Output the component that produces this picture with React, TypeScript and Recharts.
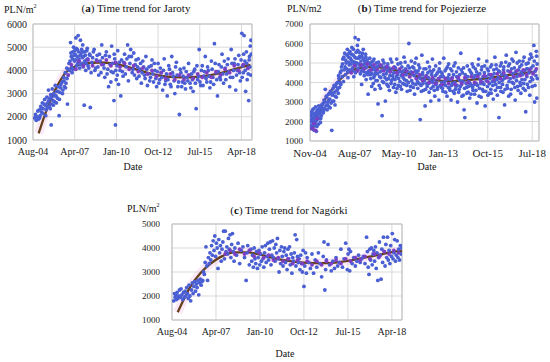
import React from 'react';
import { ComposedChart, Scatter, Line, XAxis, YAxis, CartesianGrid, ReferenceArea } from 'recharts';

// Excel date serials of the x ticks (every 1000 days)
const ticksSerialAC = [38200, 39200, 40200, 41200, 42200, 43200];
const labelsAC = ['Aug-04', 'Apr-07', 'Jan-10', 'Oct-12', 'Jul-15', 'Apr-18'];
const ticksSerialB = [38300, 39300, 40300, 41300, 42300, 43300];
const labelsB = ['Nov-04', 'Aug-07', 'May-10', 'Jan-13', 'Oct-15', 'Jul-18'];

const yTicksA = [1000, 2000, 3000, 4000, 5000, 6000];
const yTicksB = [1000, 2000, 3000, 4000, 5000, 6000, 7000];
const yTicksC = [1000, 2000, 3000, 4000, 5000];

// ---- (a) Jaroty ----
const jarotyBlue: [number, number][] = [
  [2004.70,1950],[2004.75,2100],[2004.80,1850],[2004.85,2000],[2004.90,2250],[2004.95,1900],[2005.00,2300],[2005.05,2050],
  [2005.10,2450],[2005.15,2200],[2005.20,2600],[2005.25,2350],[2005.78,1650],[2005.35,2750],[2005.40,2500],[2005.45,2300],
  [2005.50,2850],[2005.55,2600],[2005.60,3150],[2005.65,2450],[2005.70,2800],[2005.75,2950],[2005.80,2550],[2005.85,3200],
  [2005.90,2700],[2005.95,3000],[2006.00,2650],[2006.05,3350],[2006.10,2900],[2006.15,3100],[2006.20,2800],[2006.25,3300],
  [2006.30,2050],[2006.35,3050],[2006.40,3250],[2006.50,3500],[2006.55,3150],[2006.60,3700],[2006.65,3300],[2006.70,3900],
  [2006.75,3450],[2006.80,4100],[2006.85,2550],[2006.90,3800],[2006.95,4300],[2007.00,4000],[2007.05,5200],[2007.10,4600],
  [2007.15,3900],[2007.20,4800],[2007.25,5000],[2007.30,4400],[2007.35,4700],[2007.40,5400],[2007.45,4200],[2007.50,4900],
  [2007.55,5500],[2007.60,4500],[2007.65,4100],[2007.70,5300],[2007.75,4750],[2007.80,4300],[2007.85,5100],[2007.90,4600],
  [2007.95,2500],[2008.00,4800],[2008.05,4000],[2008.10,4450],[2008.15,4950],[2008.20,4200],[2008.30,4700],[2008.35,2400],
  [2008.40,3900],[2008.50,4550],[2008.60,4900],[2008.70,4100],[2008.80,4650],[2008.90,3800],[2009.00,4400],[2009.10,5100],
  [2009.20,4250],[2009.30,3700],[2009.40,4800],[2009.50,4050],[2009.55,3300],[2009.60,4600],[2009.70,3500],[2009.75,5050],
  [2009.80,4300],[2009.85,3900],[2009.90,2700],[2009.95,4500],[2010.00,1650],[2010.05,3600],[2010.10,4200],[2010.15,4850],
  [2010.20,3400],[2010.30,4000],[2010.35,2900],[2010.40,4450],[2010.50,3750],[2010.60,4700],[2010.70,4150],[2010.80,5100],
  [2010.85,3550],[2010.90,4600],[2011.00,4900],[2011.10,3900],[2011.20,4750],[2011.30,4250],[2011.40,3650],[2011.50,4500],
  [2011.60,4050],[2011.70,3450],[2011.80,4400],[2011.90,3800],[2012.00,4600],[2012.10,3350],[2012.20,4150],[2012.30,3700],
  [2012.40,4450],[2012.50,3500],[2012.60,4000],[2012.70,3300],[2012.80,4300],[2012.90,3600],[2013.00,3900],[2013.10,3150],
  [2013.20,4500],[2013.30,3550],[2013.40,2900],[2013.50,4200],[2013.60,3400],[2013.70,4600],[2013.80,3750],[2013.90,3000],
  [2014.00,4350],[2014.10,3300],[2014.20,2100],[2014.30,3900],[2014.40,3500],[2014.50,4100],[2014.60,3200],[2014.70,3700],
  [2014.80,4300],[2014.90,3450],[2015.00,3850],[2015.10,3100],[2015.20,4050],[2015.30,2350],[2015.40,3600],[2015.50,4900],
  [2015.60,3350],[2015.70,4200],[2015.80,3750],[2015.90,4600],[2016.00,3500],[2016.10,4000],[2016.20,3250],[2016.30,4400],
  [2016.40,3700],[2016.50,5150],[2016.60,3900],[2016.70,2900],[2016.80,4250],[2016.90,3600],[2017.00,4700],[2017.10,3450],
  [2017.20,4100],[2017.30,3850],[2017.40,4500],[2017.50,3300],[2017.60,4900],[2017.70,3700],[2017.80,4300],[2017.90,3150],
  [2018.00,4000],[2018.10,4650],[2018.20,3550],[2018.30,5600],[2018.35,4200],[2018.40,3900],[2018.45,5500],[2018.50,4400],
  [2018.55,3100],[2018.60,4800],[2018.65,3600],[2018.70,4100],[2018.75,2700],[2018.80,4600],[2018.85,5050],[2018.90,5300],
  [2018.88,3800],
];
const jarotyBlueMore: [number, number][] = [
  [2005.02,1950],[2005.12,2350],[2005.22,2150],[2005.32,2550],[2005.42,2050],[2005.52,2400],[2005.62,2700],[2005.72,2350],
  [2005.82,2850],[2005.92,2500],[2006.02,2900],[2006.12,2600],[2006.22,3100],[2006.32,2750],[2006.42,3400],[2006.52,3000],
  [2006.62,3550],[2006.72,3250],[2006.82,3650],[2006.92,4050],
  [2007.02,4400],[2007.08,4750],[2007.12,4150],[2007.18,4500],[2007.22,4050],[2007.28,4650],[2007.32,4850],[2007.38,4450],
  [2007.42,4950],[2007.48,4600],[2007.52,4300],[2007.58,4800],[2007.62,4400],[2007.68,4650],[2007.72,4250],[2007.78,4900],
  [2007.82,4550],[2007.88,4150],[2007.92,4800],[2007.98,4400],[2008.02,4650],[2008.08,4300],[2008.12,4850],[2008.18,4500],
  [2008.25,4100],[2008.32,4650],[2008.45,4350],[2008.55,4800],[2008.65,4000],[2008.75,4450],[2008.85,4150],[2008.95,4700],
  [2009.05,3900],[2009.15,4550],[2009.25,4100],[2009.35,4650],[2009.45,3850],[2009.65,4250],[2009.72,3950],[2009.92,4700],
  [2010.02,4000],[2010.12,3800],[2010.25,4350],[2010.45,3950],[2010.55,4350],[2010.65,3850],[2010.75,4500],[2010.95,4300],
  [2011.05,4600],[2011.15,4050],[2011.25,3800],[2011.35,4450],[2011.45,4150],[2011.55,3750],[2011.65,4300],[2011.75,3900],
  [2011.85,4150],[2011.95,3650],[2012.05,4050],[2012.15,3850],[2012.25,3550],[2012.35,4200],[2012.45,3850],[2012.55,4300],
  [2012.65,3650],[2012.75,3950],[2012.85,3450],[2012.95,4100],[2013.05,3700],[2013.15,4000],[2013.25,3400],[2013.35,3850],
  [2013.45,3600],[2013.55,4050],[2013.65,3300],[2013.75,3900],[2013.85,3550],[2013.95,4150],[2014.05,3800],[2014.15,3500],
  [2014.25,4050],[2014.35,3300],[2014.45,3750],[2014.55,3450],[2014.65,3950],[2014.75,3550],[2014.85,3800],[2014.95,3250],
  [2015.05,3600],[2015.15,3950],[2015.25,3450],[2015.35,4200],[2015.45,3750],[2015.55,3500],[2015.65,4000],[2015.75,3350],
  [2015.85,3950],[2015.95,3650],[2016.05,4150],[2016.15,3750],[2016.25,3500],[2016.35,4050],[2016.45,3400],[2016.55,4300],
  [2016.65,3600],[2016.75,3950],[2016.85,3700],[2016.95,4150],[2017.05,3850],[2017.15,4400],[2017.25,3600],[2017.35,4250],
  [2017.45,3950],[2017.55,3700],[2017.65,4300],[2017.75,4000],[2017.85,4500],[2017.95,3800],[2018.05,4250],[2018.15,3900],
  [2018.25,4450],[2018.32,3700],[2018.42,4700],[2018.52,4000],[2018.62,4300],[2018.72,3850],[2018.78,4450],[2018.83,4150],
  [2018.92,4700],
];
const jarotyPurple: [number, number][] = [
  [2006.9,3800],[2007.1,4250],[2007.4,4050],[2007.6,4400],[2007.9,4200],[2008.2,4450],[2008.5,4200],[2008.8,4400],
  [2009.1,4250],[2009.4,4450],[2009.7,4200],[2010.0,4350],[2010.3,4150],[2010.6,4300],[2010.9,4050],[2011.2,4200],
  [2011.5,3950],[2011.8,4100],[2012.1,3850],[2012.4,4000],[2012.7,3750],[2013.0,3900],[2013.3,3650],[2013.6,3850],
  [2013.9,3600],[2014.2,3800],[2014.5,3600],[2014.8,3800],[2015.1,3650],[2015.4,3850],[2015.7,3700],[2016.0,3900],
  [2016.3,3700],[2016.6,3950],[2016.9,3800],[2017.2,4050],[2017.5,3900],[2017.8,4200],[2018.1,4000],[2018.4,4250],
  [2018.7,4100],
];
const jarotyTrend: [number, number][] = [
  [2004.96,1290],[2005.40,2150],[2005.84,2870],[2006.28,3450],[2006.73,3900],[2007.28,4150],[2008.05,4300],
  [2008.93,4340],[2009.82,4300],[2010.70,4170],[2011.58,4000],[2012.69,3810],[2013.79,3710],[2014.68,3700],
  [2015.56,3740],[2016.66,3850],[2017.77,4050],[2018.87,4240],
];

// ---- (b) Pojezierze ----
const pojezierzeBlue: [number, number][] = [
  [2004.90,1800],[2004.92,2300],[2004.95,2000],[2004.97,2500],[2005.00,1700],[2005.02,2200],[2005.05,1950],[2005.07,2650],
  [2005.10,2100],[2005.12,1550],[2005.15,2400],[2005.17,1900],[2005.20,2750],[2005.22,2250],[2005.25,1500],[2005.27,2050],
  [2005.30,2600],[2005.33,2350],[2005.36,1850],[2005.40,2800],[2005.43,2150],[2005.46,2500],[2005.50,1950],[2005.53,2700],
  [2005.56,2300],[2005.60,2550],
  [2005.64,2900],[2005.68,2450],[2005.72,3100],[2005.76,2650],[2005.80,3650],[2005.84,2800],[2005.88,3250],[2005.92,2600],
  [2005.96,3000],[2006.00,3400],[2006.04,2750],[2006.08,3150],[2006.12,3550],[2006.16,2950],[2006.20,1550],[2006.24,3350],
  [2006.28,3700],[2006.32,3050],[2006.36,3500],[2006.40,2850],[2006.44,3800],[2006.48,3250],[2006.52,3600],[2006.56,4000],
  [2006.60,3450],[2006.64,4200],[2006.68,3750],[2006.72,4500],[2006.76,3900],[2006.80,4800],[2006.84,4300],[2006.88,5200],
  [2006.92,4050],[2006.96,4650],[2007.00,5500],[2007.04,4400],[2007.08,5000],[2007.12,4700],[2007.16,5700],[2007.20,4250],
  [2007.24,5300],[2007.28,4900],
  [2007.32,5600],[2007.36,4550],[2007.40,5150],[2007.44,5800],[2007.48,4750],[2007.52,5400],[2007.56,4300],[2007.60,5050],
  [2007.64,6300],[2007.68,4850],[2007.72,5250],[2007.76,4600],[2007.80,5650],[2007.84,6200],[2007.88,4950],[2007.92,5350],
  [2007.96,4450],[2008.00,5100],[2008.04,3900],[2008.08,5500],[2008.12,4700],[2008.16,5200],[2008.20,4350],[2008.24,4950],
  [2008.28,5450],[2008.32,4150],[2008.36,4800],[2008.40,5000],[2008.44,3400],[2008.48,4600],
  [2008.54,5250],[2008.58,4400],[2008.62,4900],[2008.66,3800],[2008.70,4650],[2008.74,5100],[2008.78,4250],[2008.82,4750],
  [2008.86,3650],[2008.90,4500],[2008.95,5000],[2009.00,4100],[2009.05,2900],[2009.10,4850],[2009.15,4300],[2009.20,3700],
  [2009.25,4600],[2009.30,2300],[2009.35,5150],[2009.40,4000],[2009.45,4700],[2009.50,3050],[2009.55,4450],[2009.60,3900],
  [2009.65,4950],[2009.70,4200],[2009.75,3600],[2009.80,4550],[2009.85,3950],[2009.90,5050],[2009.95,4350],
  [2010.00,3750],[2010.05,4800],[2010.10,4150],[2010.15,3500],[2010.20,5200],[2010.25,4400],[2010.30,3850],[2010.35,4650],
  [2010.40,4050],[2010.45,5000],[2010.50,3650],[2010.55,4500],[2010.60,4250],[2010.65,5300],[2010.70,3900],[2010.75,4700],
  [2010.80,4100],[2010.85,3550],[2010.90,4850],[2010.95,6000],[2011.00,4300],[2011.05,3800],[2011.10,5100],[2011.15,4450],
  [2011.20,3950],[2011.25,4750],[2011.30,3400],[2011.35,4600],[2011.40,5250],[2011.45,4200],
  [2011.50,3700],[2011.55,4900],[2011.60,4350],[2011.65,2100],[2011.70,3850],[2011.75,5400],[2011.80,4500],[2011.85,3600],
  [2011.90,4100],[2011.95,2800],[2012.00,4700],[2012.05,3950],[2012.10,5050],[2012.15,4250],[2012.20,3500],[2012.25,4600],
  [2012.30,3050],[2012.35,4400],[2012.40,5200],[2012.45,3800],[2012.50,4150],[2012.55,3300],[2012.60,4850],[2012.65,4000],
  [2012.70,3650],[2012.75,4550],[2012.80,3100],[2012.85,5000],[2012.90,4300],[2012.95,3750],
  [2013.00,4450],[2013.05,3550],[2013.10,5250],[2013.15,4050],[2013.20,3850],[2013.25,4700],[2013.30,3300],[2013.35,4250],
  [2013.40,4950],[2013.45,3700],[2013.50,4150],[2013.55,3100],[2013.60,4600],[2013.65,3950],[2013.70,4400],[2013.75,3450],
  [2013.80,5000],[2013.85,3800],[2013.90,4300],[2013.95,3000],[2014.00,4750],[2014.05,3650],[2014.10,4100],[2014.15,5500],
  [2014.20,3900],[2014.25,4500],[2014.30,3350],[2014.35,2600],[2014.40,2200],[2014.45,4200],[2014.50,3750],[2014.55,4850],
  [2014.60,3500],[2014.65,4050],[2014.70,3200],[2014.75,4550],[2014.80,3850],[2014.85,4950],[2014.90,3600],[2014.95,4250],
  [2015.00,3400],[2015.05,4700],[2015.10,3950],[2015.15,2950],[2015.20,4400],[2015.25,5200],[2015.30,3700],[2015.35,4150],
  [2015.40,3250],[2015.45,4800],[2015.50,4000],[2015.55,3550],[2015.60,4500],[2015.65,2800],[2015.70,4300],[2015.75,5100],
  [2015.80,3800],[2015.85,4600],[2015.90,3450],[2015.95,4200],[2016.00,3650],[2016.05,4900],[2016.10,4050],[2016.15,3150],
  [2016.20,4450],[2016.25,5300],[2016.30,3900],[2016.35,4700],[2016.40,3350],[2016.45,4250],[2016.50,2200],
  [2016.55,4550],[2016.60,3750],[2016.65,5000],[2016.70,4100],[2016.75,3500],[2016.80,4800],[2016.85,2850],[2016.90,4350],
  [2016.95,5400],[2017.00,3850],[2017.05,4600],[2017.10,3300],[2017.15,4950],[2017.20,4200],[2017.25,3650],[2017.30,5200],
  [2017.35,4450],[2017.40,3950],[2017.45,4750],[2017.50,3100],[2017.55,5550],[2017.60,4300],[2017.65,3800],[2017.70,4650],
  [2017.75,5100],[2017.80,4000],[2017.85,3450],[2017.90,4900],[2017.95,4400],[2018.00,3700],[2018.05,5300],[2018.10,4150],
  [2018.15,2500],[2018.20,4700],[2018.25,3900],[2018.30,5000],[2018.35,4500],[2018.40,3350],[2018.45,5450],[2018.50,4250],
  [2018.55,3800],[2018.60,4850],[2018.65,5900],[2018.70,3000],[2018.75,4600],[2018.80,5600],[2018.83,3200],[2018.85,4950],
];
const pojezierzeBlueMore: [number, number][] = [
  [2004.88,2100],[2004.93,1650],[2004.98,2400],[2005.03,2600],[2005.08,1800],[2005.13,2250],[2005.18,2050],[2005.23,2450],
  [2005.28,1750],[2005.32,2550],[2005.38,2200],[2005.42,2650],[2005.48,2400],[2005.52,2150],[2005.58,2850],
  [2005.62,2700],[2005.70,2550],[2005.78,3000],[2005.86,3300],[2005.94,2850],[2006.02,3100],[2006.10,2700],[2006.18,3450],
  [2006.26,3050],[2006.34,3850],[2006.42,3300],[2006.50,3950],[2006.58,3700],
  [2006.62,4350],[2006.70,4000],[2006.78,4600],[2006.86,4950],[2006.94,5300],[2007.02,4800],[2007.06,5150],[2007.14,5400],
  [2007.18,4550],[2007.22,5050],[2007.26,5500],[2007.30,4650],[2007.34,5250],[2007.38,4950],[2007.42,5450],[2007.46,5100],
  [2007.50,4600],[2007.54,5700],[2007.58,4950],[2007.62,5300],[2007.66,4500],[2007.70,5550],[2007.74,5000],[2007.78,5900],
  [2007.82,4700],[2007.86,5250],[2007.90,5550],[2007.94,4850],[2007.98,5300],[2008.02,4600],[2008.06,5350],[2008.10,4900],
  [2008.14,5700],[2008.18,4550],[2008.22,5100],[2008.26,4750],[2008.30,5300],[2008.34,4500],[2008.38,5150],[2008.42,4400],
  [2008.46,5000],
  [2008.52,4550],[2008.56,4950],[2008.60,4200],[2008.64,5050],[2008.68,4450],[2008.72,4800],[2008.76,3950],[2008.80,5200],
  [2008.84,4350],[2008.88,4650],[2008.92,4100],[2008.98,4800],[2009.02,4450],[2009.08,5050],[2009.12,3850],[2009.18,4550],
  [2009.22,4250],[2009.28,4850],[2009.32,4050],[2009.38,4400],[2009.42,5000],[2009.48,4250],[2009.52,4800],[2009.58,4150],
  [2009.62,4600],[2009.68,3800],[2009.72,4750],[2009.78,4350],[2009.82,5200],[2009.88,4100],[2009.92,4700],[2009.98,4200],
  [2010.02,4500],[2010.08,3900],[2010.12,4750],[2010.18,4300],[2010.22,3700],[2010.28,4950],[2010.32,4200],[2010.38,4550],
  [2010.42,3800],[2010.48,4350],[2010.52,4800],[2010.58,3950],[2010.62,4600],[2010.68,4150],[2010.72,5050],[2010.78,4400],
  [2010.82,3850],[2010.88,4550],[2010.92,4000],[2010.98,4750],[2011.02,3600],[2011.08,4550],[2011.12,4100],[2011.18,4800],
  [2011.22,3750],[2011.28,4350],[2011.32,5000],[2011.38,3900],[2011.42,4500],[2011.48,4050],
  [2011.52,4600],[2011.58,3950],[2011.62,4750],[2011.68,4200],[2011.72,3550],[2011.78,4400],[2011.82,3950],[2011.88,4700],
  [2011.92,4250],[2011.98,3650],[2012.02,4350],[2012.08,3800],[2012.12,4500],[2012.18,3950],[2012.22,4800],[2012.28,4100],
  [2012.32,3700],[2012.38,4550],[2012.42,4000],[2012.48,4650],[2012.52,3600],[2012.58,4350],[2012.62,3900],[2012.68,4450],
  [2012.72,3750],[2012.78,4200],[2012.82,4700],[2012.88,3850],[2012.92,4550],[2012.98,4000],
  [2013.02,3700],[2013.08,4300],[2013.12,3900],[2013.18,4600],[2013.22,3500],[2013.28,4150],[2013.32,4800],[2013.38,3750],
  [2013.42,4400],[2013.48,3600],[2013.52,4700],[2013.58,3850],[2013.62,4250],[2013.68,3550],[2013.72,4850],[2013.78,4000],
  [2013.82,3650],[2013.88,4550],[2013.92,3850],[2013.98,4200],[2014.02,3500],[2014.08,4400],[2014.12,3800],[2014.18,4650],
  [2014.22,3300],[2014.28,4050],[2014.32,4750],[2014.38,3700],[2014.42,4400],[2014.48,3950],[2014.52,3450],[2014.58,4300],
  [2014.62,3800],[2014.68,4650],[2014.72,3950],[2014.78,3400],[2014.82,4450],[2014.88,3750],[2014.92,4800],[2014.98,3900],
  [2015.02,4350],[2015.08,3600],[2015.12,4550],[2015.18,3850],[2015.22,4900],[2015.28,3300],[2015.32,4450],[2015.38,3950],
  [2015.42,4650],[2015.48,3650],[2015.52,4300],[2015.58,3900],[2015.62,4850],[2015.68,3550],[2015.72,4100],[2015.78,4700],
  [2015.82,3350],[2015.88,4400],[2015.92,3950],[2015.98,4800],[2016.02,3450],[2016.08,4300],[2016.12,3850],[2016.18,4650],
  [2016.22,4050],[2016.28,3600],[2016.32,4900],[2016.38,4150],[2016.42,3750],[2016.48,4600],
  [2016.52,4000],[2016.58,4850],[2016.62,3550],[2016.68,4400],[2016.72,3900],[2016.78,4650],[2016.82,4200],[2016.88,3650],
  [2016.92,5050],[2016.98,4300],[2017.02,3700],[2017.08,4850],[2017.12,4050],[2017.18,4550],[2017.22,3400],[2017.28,4700],
  [2017.32,4000],[2017.38,5100],[2017.42,4250],[2017.48,3750],[2017.52,4550],[2017.58,4100],[2017.62,5000],[2017.68,3600],
  [2017.72,4400],[2017.78,4800],[2017.82,3850],[2017.88,4550],[2017.92,4150],[2017.98,5100],[2018.02,3950],[2018.08,4600],
  [2018.12,3600],[2018.18,4950],[2018.22,4300],[2018.28,4700],[2018.32,3750],[2018.38,5200],[2018.42,4050],[2018.48,4750],
  [2018.52,5300],[2018.58,4150],[2018.62,4500],[2018.68,5100],[2018.72,3850],[2018.78,4350],[2018.82,5350],[2018.86,4200],
];
const pojezierzePurple: [number, number][] = [
  [2005.0,1650],[2005.1,1900],[2005.2,1550],[2005.3,2150],
  [2007.4,4500],[2007.6,4850],[2007.8,4600],[2008.0,4900],[2008.2,4700],[2008.4,4950],[2008.6,4650],[2008.8,4900],
  [2009.0,4650],[2009.2,4900],[2009.4,4600],[2009.6,4800],[2009.8,4550],[2010.0,4750],[2010.2,4500],[2010.4,4700],
  [2010.6,4400],[2010.8,4600],[2011.0,4300],[2011.2,4500],[2011.4,4200],[2011.6,4400],[2011.8,4100],[2012.0,4300],
  [2012.2,4000],[2012.4,4250],[2012.6,3950],[2012.8,4200],[2013.0,3900],[2013.2,4200],[2013.4,3950],[2013.6,4200],
  [2013.8,3900],[2014.0,4250],[2014.2,3950],[2014.4,4250],[2014.6,4000],[2014.8,4300],[2015.0,4000],[2015.2,4300],
  [2015.4,4050],[2015.6,4350],[2015.8,4050],[2016.0,4400],[2016.2,4150],[2016.4,4450],[2016.6,4200],[2016.8,4500],
  [2017.0,4250],[2017.2,4550],[2017.4,4300],[2017.6,4600],[2017.8,4350],[2018.0,4650],[2018.2,4400],[2018.4,4650],
  [2018.6,4450],[2018.8,4700],
];
const pojezierzeTrend: [number, number][] = [
  [2005.00,1520],[2005.37,2340],[2005.78,3120],[2006.29,3720],[2006.81,4240],[2007.63,4670],[2008.45,4790],
  [2009.27,4760],[2010.09,4640],[2010.91,4470],[2011.73,4240],[2012.55,4120],[2013.37,4070],[2014.19,4100],
  [2015.00,4160],[2015.84,4220],[2016.66,4330],[2017.48,4430],[2018.30,4500],[2018.80,4570],
];

// ---- (c) Nagórki ----
const nagorkiBlue: [number, number][] = [
  [2004.70,1800],[2004.74,2100],[2004.78,1950],[2004.82,2050],[2004.86,1850],[2004.90,2150],[2004.95,1900],[2005.00,2000],
  [2005.05,2250],[2005.10,1950],[2005.15,2300],[2005.20,2050],[2005.25,1850],[2005.30,2150],[2005.35,1950],[2005.40,2200],
  [2005.45,2000],[2005.50,2350],[2005.55,2100],[2005.60,1900],[2005.65,2450],[2005.70,2000],[2005.75,1800],[2005.80,2250],
  [2005.85,2550],[2005.90,2100],[2005.95,2400],[2006.00,2600],[2006.05,2200],[2006.10,2500],[2006.15,2350],[2006.20,2650],
  [2006.25,2050],[2006.30,2550],[2006.35,2700],[2006.40,2450],[2006.45,2600],
  [2006.50,2650],[2006.55,3000],[2006.60,2900],[2006.65,3400],[2006.70,4050],[2006.75,3250],[2006.80,2650],[2006.85,3600],
  [2006.90,3350],[2006.95,3800],[2007.00,3500],[2007.05,4100],[2007.10,3700],[2007.15,4300],
  [2007.20,3900],[2007.25,4500],[2007.30,3650],[2007.35,4200],[2007.40,4000],[2007.45,3150],[2007.50,4350],[2007.55,3800],
  [2007.60,4100],[2007.65,3450],[2007.70,3950],[2007.75,4250],[2007.80,4700],[2007.85,3550],[2007.90,4700],[2007.95,3850],
  [2008.00,4050],[2008.05,3750],[2008.10,4400],[2008.15,3950],[2008.20,4550],[2008.25,3600],[2008.30,4150],[2008.35,4600],
  [2008.40,3850],[2008.45,3450],[2008.50,4000],[2008.60,3700],[2008.70,4200],[2008.80,3350],[2008.90,3900],[2009.00,4050],
  [2009.10,3600],[2009.20,2650],[2009.25,3800],[2009.30,4100],[2009.40,3300],[2009.50,3950],
  [2009.55,3450],[2009.60,3700],[2009.65,3200],[2009.70,4000],[2009.75,3550],[2009.80,3350],[2009.85,3850],[2009.90,3150],
  [2009.95,3600],[2010.00,3900],[2010.05,3300],[2010.10,3750],[2010.15,3450],[2010.20,4050],[2010.25,3550],[2010.30,3200],
  [2010.35,3800],[2010.40,4100],[2010.45,3400],[2010.50,3650],[2010.55,4200],[2010.60,3500],[2010.65,3950],[2010.70,4250],
  [2010.75,3300],[2010.80,3700],[2010.85,4300],[2010.90,3600],[2010.95,4000],
  [2011.00,3450],[2011.05,4150],[2011.10,3800],[2011.15,4400],[2011.20,3550],[2011.25,3000],[2011.30,3900],[2011.35,3350],
  [2011.40,4050],[2011.45,3650],[2011.50,3250],[2011.55,3850],[2011.60,4000],[2011.65,3400],[2011.70,3700],[2011.75,3100],
  [2011.80,3950],[2011.85,3550],[2011.90,4050],[2011.95,3300],[2012.00,3750],[2012.05,2950],[2012.10,3600],[2012.15,3450],
  [2012.20,3800],[2012.25,4550],[2012.30,3250],[2012.35,4350],[2012.40,3650],[2012.45,3400],
  [2012.50,3550],[2012.55,3100],[2012.60,3700],[2012.65,3350],[2012.70,3000],[2012.75,3900],[2012.80,2400],[2012.85,3250],
  [2012.90,3800],[2012.95,2950],[2013.00,3600],[2013.10,3400],[2013.20,3150],[2013.30,3750],[2013.40,2950],[2013.50,3500],
  [2013.60,3200],[2013.70,3800],[2013.80,3350],[2013.90,2800],
  [2014.00,3650],[2014.05,4250],[2014.10,2250],[2014.15,3100],[2014.20,3500],[2014.30,4150],[2014.40,3300],[2014.50,3050],
  [2014.60,3450],[2014.70,3150],[2014.80,3600],[2014.90,3250],
  [2015.00,3400],[2015.10,3950],[2015.20,3200],[2015.30,3550],[2015.40,4200],[2015.50,3100],[2015.55,3750],[2015.60,3950],
  [2015.65,3050],[2015.70,3850],[2015.80,3350],[2015.90,3600],[2016.00,3250],[2016.10,3450],[2016.20,3700],[2016.30,3400],
  [2016.40,3550],
  [2016.50,3650],[2016.60,3350],[2016.70,4450],[2016.75,3850],[2016.80,3200],[2016.85,2900],[2016.90,3950],[2016.95,3500],
  [2017.00,4000],[2017.05,3300],[2017.10,3750],[2017.15,3900],[2017.20,3450],[2017.25,4050],[2017.30,3150],[2017.35,3800],
  [2017.40,2650],[2017.45,3600],
  [2017.50,4250],[2017.55,3700],[2017.60,2700],[2017.65,3950],[2017.70,3400],[2017.75,4450],[2017.80,3850],[2017.85,3250],
  [2017.90,4150],[2017.95,3600],[2018.00,4450],[2018.05,3500],[2018.10,3900],[2018.15,3350],[2018.20,4100],[2018.25,3650],
  [2018.30,4600],[2018.35,3550],[2018.40,3800],[2018.45,4350],[2018.50,3450],[2018.55,3700],[2018.60,4300],[2018.65,3600],
  [2018.70,3950],[2018.75,3500],[2018.80,4100],[2018.85,3750],[2018.90,4000],
];
const nagorkiPurple: [number, number][] = [
  [2007.9,3750],[2008.2,3900],[2008.5,3750],[2008.8,3950],[2009.1,3750],[2009.4,3900],[2009.7,3650],[2010.0,3800],
  [2010.3,3600],[2010.6,3700],[2010.9,3500],[2011.2,3600],[2011.5,3450],[2011.8,3550],[2012.1,3350],[2012.4,3500],
  [2012.7,3350],[2013.0,3450],[2013.3,3300],[2013.6,3450],[2013.9,3300],[2014.2,3450],[2014.5,3350],[2014.8,3500],
  [2015.1,3350],[2015.4,3550],[2015.7,3450],[2016.0,3600],[2016.3,3500],[2016.6,3650],[2016.9,3550],[2017.2,3750],
  [2017.5,3650],[2017.8,3850],[2018.1,3750],[2018.4,3900],[2018.7,3800],
];
const nagorkiTrend: [number, number][] = [
  [2004.94,1320],[2005.31,1840],[2005.73,2390],[2006.35,2950],[2006.97,3340],[2007.59,3620],[2008.42,3820],
  [2009.25,3820],[2010.08,3720],[2010.91,3580],[2011.74,3470],[2012.57,3400],[2013.40,3370],[2014.23,3370],
  [2015.06,3420],[2015.89,3510],[2016.72,3620],[2017.55,3720],[2018.37,3840],[2018.90,3880],
];

const FONT = '"Liberation Serif", "DejaVu Serif", serif';
const serialToYear = (s: number) => 1900 + (s - 1) / 365.2425;
const toPts = (arr: [number, number][]) => arr.map(([x, y]) => ({ x, y }));

const BLUE = '#4a5fd3';
const PURPLE = '#7b3fc6';
const TREND = '#65401a';

type PanelProps = {
  left: number; top: number; width: number; height: number;
  xSerials: number[]; xLabels: string[]; xMaxSerial: number;
  yTicks: number[];
  blue: [number, number][]; purple: [number, number][]; trend: [number, number][];
  xFont: number; yFont: number; yTickGap: number; plotHeight: number;
};

function Panel(p: PanelProps) {
  const xTicks = p.xSerials.map(serialToYear);
  const xDomain = [xTicks[0], serialToYear(p.xMaxSerial)];
  const yDomain = [p.yTicks[0], p.yTicks[p.yTicks.length - 1]];
  const bottom = p.height - 24 - p.plotHeight - 20;
  const dot = (color: string) => (props: any) => (
    <circle cx={props.cx} cy={props.cy} r={1.9} fill={color} />
  );
  return (
    <div style={{ position: 'absolute', left: p.left, top: p.top, fontFamily: FONT }}>
      <ComposedChart width={p.width} height={p.height} margin={{ top: 24, right: 8, bottom, left: 0 }} style={{ fontFamily: FONT }}>
        <CartesianGrid stroke="#d9d9d9" strokeWidth={1} />
        <XAxis
          type="number" dataKey="x" domain={xDomain} ticks={xTicks} allowDataOverflow
          tickFormatter={(v: number) => p.xLabels[xTicks.findIndex((t) => Math.abs(t - v) < 0.01)] ?? ''}
          tick={{ fill: '#222', fontSize: p.xFont, fontFamily: FONT }}
          axisLine={false} tickLine={false} height={20} interval={0}
        />
        <YAxis
          type="number" dataKey="y" domain={yDomain} ticks={p.yTicks} allowDataOverflow
          tick={{ fill: '#222', fontSize: p.yFont, fontFamily: FONT }}
          axisLine={false} tickLine={false} width={33} tickSize={p.yTickGap} tickMargin={0} interval={0}
        />
        <ReferenceArea x1={xDomain[0]} x2={xDomain[1]} y1={yDomain[0]} y2={yDomain[1]} fill="none" stroke="#bfbfbf" ifOverflow="visible" />
        <Line data={toPts(p.trend)} dataKey="y" type="monotone" stroke="#f5bfe9" strokeOpacity={0.35} strokeWidth={9} dot={false} isAnimationActive={false} />
        <Scatter data={toPts(p.blue)} fill={BLUE} shape={dot(BLUE)} isAnimationActive={false} />
        <Scatter data={toPts(p.purple)} fill={PURPLE} shape={dot(PURPLE)} isAnimationActive={false} />
        <Line data={toPts(p.trend)} dataKey="y" type="monotone" stroke={TREND} strokeWidth={2.3} dot={false} isAnimationActive={false} />
      </ComposedChart>
    </div>
  );
}

function Txt({ x, y, size, center, children }: { x: number; y: number; size: number; center?: boolean; children: React.ReactNode }) {
  return (
    <div style={{
      position: 'absolute', left: x, top: y, fontFamily: FONT, fontSize: size, lineHeight: 1, fontWeight: 400,
      whiteSpace: 'nowrap', color: '#111', transform: center ? 'translate(-50%, -50%)' : 'translate(0, -50%)',
    }}>{children}</div>
  );
}

export default function App() {
  return (
    <div style={{ position: 'absolute', left: 0, top: 0, width: 550, height: 362, background: '#fff', overflow: 'hidden', fontFamily: FONT }}>
      <Panel left={0} top={0} width={260} height={175} xSerials={ticksSerialAC} xLabels={labelsAC} xMaxSerial={43453}
        yTicks={yTicksA} blue={[...jarotyBlue, ...jarotyBlueMore]} purple={jarotyPurple} trend={jarotyTrend} xFont={10} yFont={10} yTickGap={6} plotHeight={116} />
      <Panel left={277} top={0} width={270} height={175} xSerials={ticksSerialB} xLabels={labelsB} xMaxSerial={43453}
        yTicks={yTicksB} blue={[...pojezierzeBlue, ...pojezierzeBlueMore]} purple={pojezierzePurple} trend={pojezierzeTrend} xFont={11} yFont={9} yTickGap={7} plotHeight={117} />
      <Panel left={139} top={200} width={271} height={155} xSerials={ticksSerialAC} xLabels={labelsAC} xMaxSerial={43430}
        yTicks={yTicksC} blue={nagorkiBlue} purple={nagorkiPurple} trend={nagorkiTrend} xFont={10} yFont={9} yTickGap={12} plotHeight={96} />

      <Txt x={4} y={9} size={10}>PLN/m<sup style={{ fontSize: 6 }}>2</sup></Txt>
      <Txt x={136} y={8} size={11} center>(<b>a</b>) Time trend for Jaroty</Txt>
      <Txt x={133} y={167} size={10} center>Date</Txt>

      <Txt x={287} y={9} size={10}>PLN/m2</Txt>
      <Txt x={422} y={8} size={11} center>(<b>b</b>) Time trend for Pojezierze</Txt>
      <Txt x={427} y={167} size={10} center>Date</Txt>

      <Txt x={127} y={208} size={10}>PLN/m<sup style={{ fontSize: 6 }}>2</sup></Txt>
      <Txt x={289} y={210} size={11} center>(<b>c</b>) Time trend for Nagórki</Txt>
      <Txt x={285} y={354} size={10} center>Date</Txt>
    </div>
  );
}
